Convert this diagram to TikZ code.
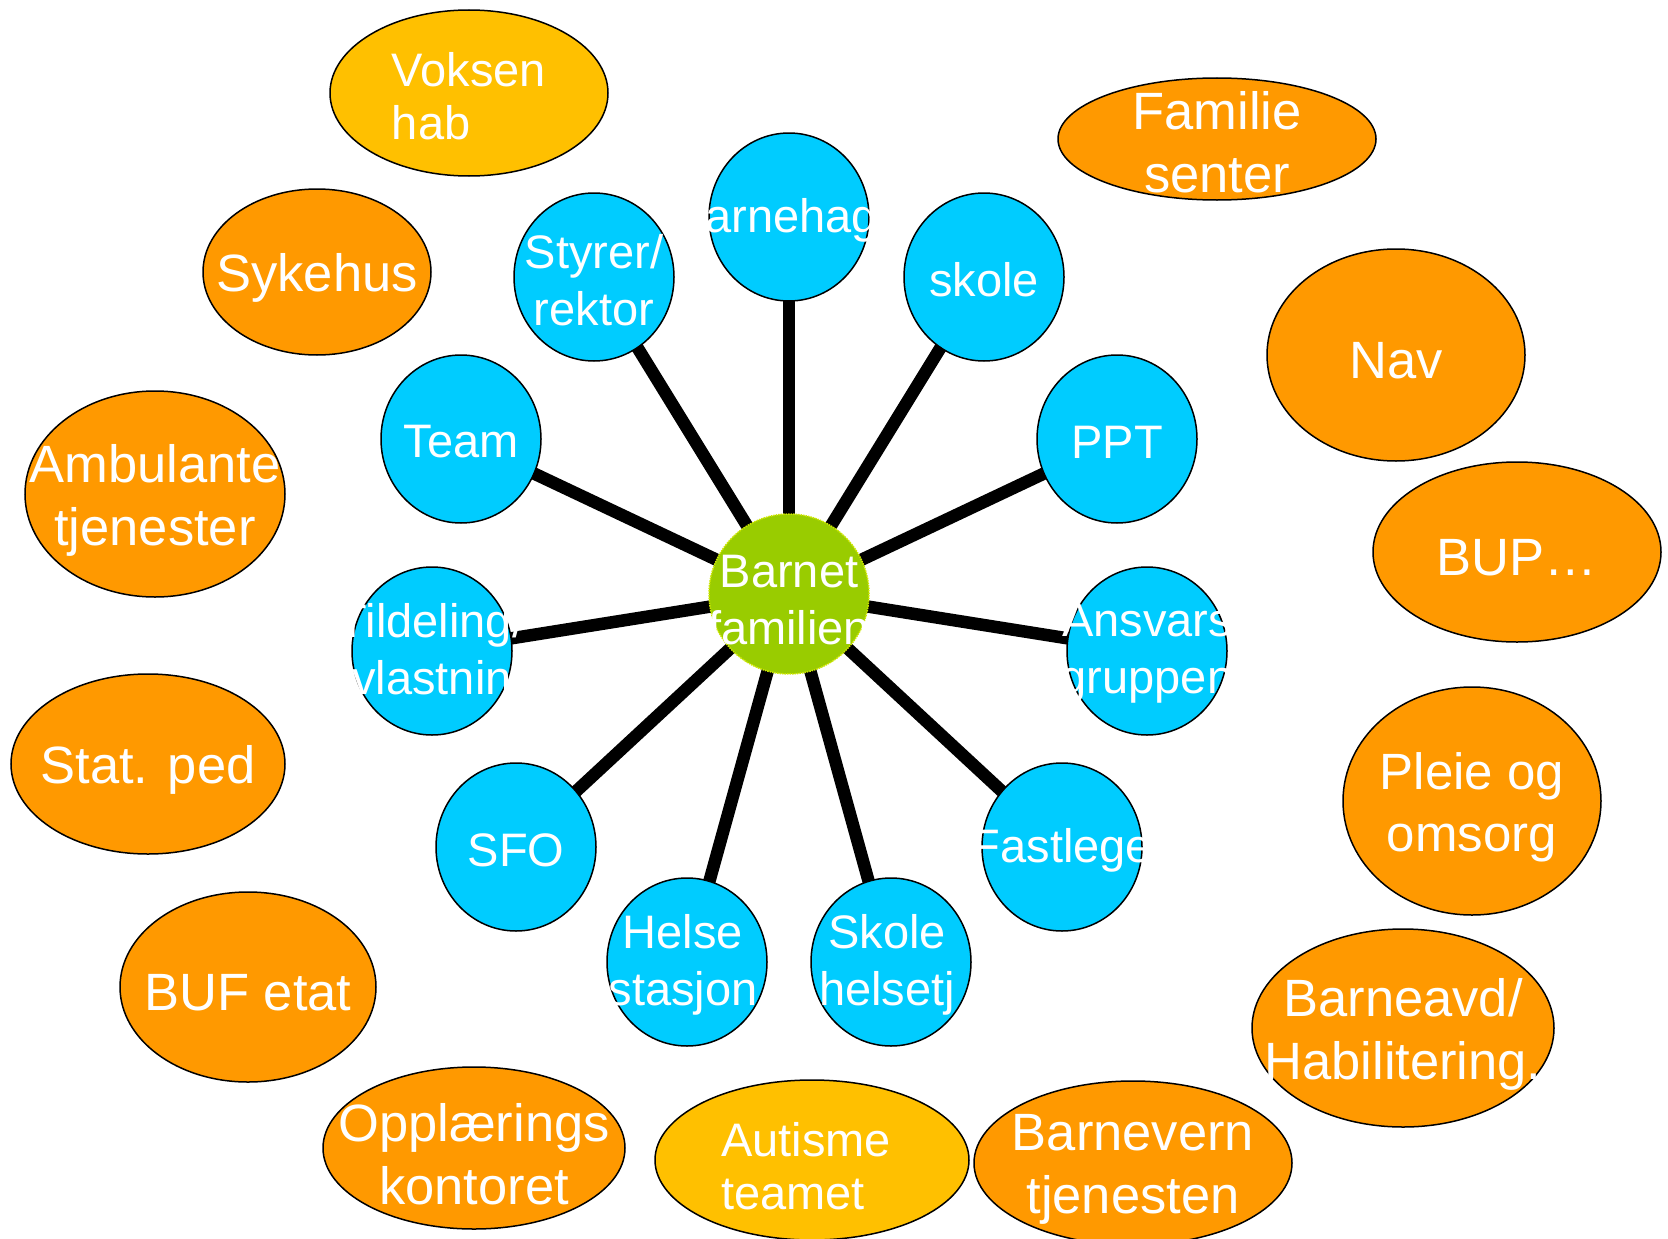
\documentclass[tikz,border=0pt]{standalone}
\usepackage{fontspec}
\setmainfont{Liberation Sans}
\usetikzlibrary{shapes.geometric,backgrounds}
\definecolor{hubgreen}{HTML}{99CC00}
\definecolor{sky}{HTML}{00CCFF}
\definecolor{tangerine}{HTML}{FF9900}
\definecolor{amber}{HTML}{FFC000}

\begin{document}
\begin{tikzpicture}[x=1pt, y=-1pt,
		blob/.style={ellipse, draw=black, line width=1.5pt, inner sep=0pt},
		etat/.style={blob, fill=tangerine},
		gult/.style={blob, fill=amber},
		tjeneste/.style={blob, fill=sky, minimum width=160pt, minimum height=168pt},
		txt/.style={text=white, align=center, inner sep=0pt, yshift=-3pt, font=\fontsize{47}{57}\selectfont},
		gultxt/.style={txt, align=left, font=\fontsize{47}{53}\selectfont},
		stortxt/.style={txt, yshift=-3pt, font=\fontsize{52.5}{63}\selectfont},
		eiker/.style={line width=12.5pt}]
			\useasboundingbox (0,0) rectangle (1668,1239);
			
			% Barnet in the middle
			\node[blob, fill=hubgreen, draw=hubgreen!50!yellow, densely dotted, minimum size=160pt,
				label={[txt, yshift=-3pt]center:{Barnet\\familien}}] (barn) at (789,594) {};
			
			% The services round the child
			\node[tjeneste, label={[txt]center:Barnehage}] (hage) at (789,217) {};
			\node[tjeneste, label={[txt]center:{Styrer/\\rektor}}] (styrer) at (594,277) {};
			\node[tjeneste, label={[txt]center:skole}] (skole) at (984,277) {};
			\node[tjeneste, label={[txt]center:Team}] (team) at (461,439) {};
			\node[tjeneste, label={[txt]center:PPT}] (ppt) at (1117,439) {};
			\node[tjeneste, label={[txt]center:{Tildeling/\\avlastning}}] (tild) at (432,651) {};
			\node[tjeneste, label={[txt]center:{Ansvars\\gruppen}}] (ansvar) at (1147,651) {};
			\node[tjeneste, label={[txt]center:SFO}] (sfo) at (516,847) {};
			\node[tjeneste, label={[txt]center:Fastlege}] (lege) at (1062,847) {};
			\node[tjeneste, label={[txt, xshift=-4pt]center:{Helse\\stasjon}}] (helse) at (687,962) {};
			\node[tjeneste, label={[txt, xshift=-4pt]center:{Skole\\helsetj}}] (skhelse) at (891,962) {};
			
			% Spokes from the child to each service
			\begin{scope}[on background layer]
				\foreach \n in {hage,styrer,skole,team,ppt,tild,ansvar,sfo,lege,helse,skhelse}
				\draw[eiker] (barn.center) -- (\n.center);
			\end{scope}
			
			% Outer ring of agencies
			\node[gult, minimum width=278pt, minimum height=166pt, label={[gultxt]center:{Voksen\\hab}}] (voksen) at (469,93) {};
			\node[etat, minimum width=318pt, minimum height=122pt, label={[stortxt, yshift=3pt]center:{Familie\\senter}}] (familie) at (1217,139) {};
			\node[etat, minimum width=228pt, minimum height=166pt, label={[stortxt]center:Sykehus}] (sykehus) at (317,272) {};
			\node[etat, minimum width=258pt, minimum height=212pt, label={[stortxt]center:Nav}] (nav) at (1396,355) {};
			\node[etat, minimum width=260pt, minimum height=206pt, label={[stortxt]center:{Ambulante\\tjenester}}] (ambulant) at (155,494) {};
			\node[etat, minimum width=288pt, minimum height=180pt, label={[stortxt]center:{BUP…}}] (bup) at (1517,552) {};
			\node[etat, minimum width=274pt, minimum height=180pt, label={[stortxt]center:{Stat. ped}}] (statped) at (148,764) {};
			\node[etat, minimum width=258pt, minimum height=228pt, label={[stortxt, font=\fontsize{51}{62}\selectfont]center:{Pleie og\\omsorg}}] (pleie) at (1472,801) {};
			\node[etat, minimum width=256pt, minimum height=190pt, label={[stortxt]center:{BUF etat}}] (buf) at (248,987) {};
			\node[etat, minimum width=302pt, minimum height=198pt, label={[stortxt]center:{Barneavd/\\Habilitering.}}] (habil) at (1403,1028) {};
			\node[etat, minimum width=302pt, minimum height=162pt, label={[stortxt]center:{Opplærings\\kontoret}}] (oppl) at (474,1148) {};
			\node[gult, minimum width=314pt, minimum height=160pt, label={[gultxt, xshift=-6pt, yshift=-3pt]center:{Autisme\\teamet}}] (autisme) at (812,1160) {};
			\node[etat, minimum width=318pt, minimum height=164pt, label={[stortxt]center:{Barnevern\\tjenesten}}] (barnevern) at (1133,1163) {};
		\end{tikzpicture}
\end{document}
